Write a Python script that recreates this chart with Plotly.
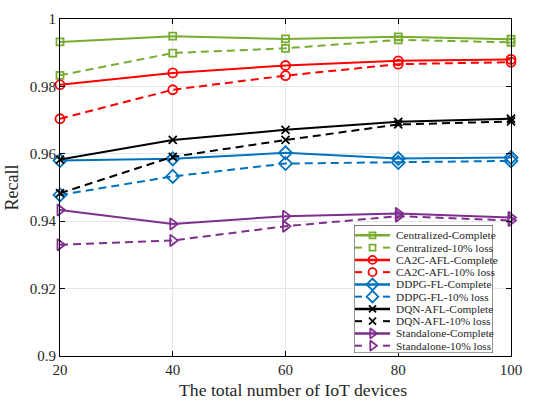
import plotly.graph_objects as go

devices = [20, 40, 60, 80, 100]

central_complete = [0.9932, 0.9949, 0.9941, 0.9947, 0.9940]
central_loss = [0.9833, 0.9899, 0.9913, 0.9938, 0.9931]
ca2c_complete = [0.9805, 0.9840, 0.9862, 0.9876, 0.9880]
ca2c_loss = [0.9704, 0.9790, 0.9832, 0.9866, 0.9872]
ddpg_complete = [0.9580, 0.9585, 0.9603, 0.9586, 0.9589]
ddpg_loss = [0.9478, 0.9533, 0.9571, 0.9574, 0.9579]
dqn_complete = [0.9583, 0.9641, 0.9671, 0.9695, 0.9704]
dqn_loss = [0.9483, 0.9591, 0.9641, 0.9687, 0.9696]
standalone_complete = [0.9433, 0.9392, 0.9415, 0.9423, 0.9411]
standalone_loss = [0.9330, 0.9343, 0.9385, 0.9415, 0.9402]

x_ticks = [20, 40, 60, 80, 100]
y_ticks = [0.9, 0.92, 0.94, 0.96, 0.98, 1.0]
y_tick_text = ["0.9", "0.92", "0.94", "0.96", "0.98", "1"]

series = [
    ("Centralized-Complete", central_complete, "#77AC30", False, "square-open", 7, 6),
    ("Centralized-10% loss", central_loss, "#77AC30", True, "square-open", 7, 6),
    ("CA2C-AFL-Complete", ca2c_complete, "#FF0000", False, "circle-open", 9, 8),
    ("CA2C-AFL-10% loss", ca2c_loss, "#FF0000", True, "circle-open", 9, 8),
    ("DDPG-FL-Complete", ddpg_complete, "#0072BD", False, "diamond-open", 10, 9),
    ("DDPG-FL-10% loss", ddpg_loss, "#0072BD", True, "diamond-open", 10, 9),
    ("DQN-AFL-Complete", dqn_complete, "#000000", False, "x-thin-open", 8, 7),
    ("DQN-AFL-10% loss", dqn_loss, "#000000", True, "x-thin-open", 8, 7),
    ("Standalone-Complete", standalone_complete, "#7E2F8E", False, "triangle-right-open", 10, 9),
    ("Standalone-10% loss", standalone_loss, "#7E2F8E", True, "triangle-right-open", 10, 9),
]

font = "Liberation Serif, Times New Roman, serif"
text_color = "#262626"

# figure / plot-area geometry in pixels
W, H = 543, 405
ML, MR, MT, MB = 60, 32, 11, 49
PW, PH = W - ML - MR, H - MT - MB

# legend box in pixels (left, right, top, bottom)
LB_L, LB_R, LB_T, LB_B = 354, 493, 222, 353
LB_W, LB_H = LB_R - LB_L, LB_B - LB_T
ROW0, ROW_STEP = 10.5, 12.55
SAMPLE_X0, SAMPLE_X1, TEXT_X = 1, 36, 41

# x-axis title placement (pixels)
XT_CX, XT_CY = 293, 391

fig = go.Figure()
for name, vals, color, dashed, symbol, size, _ in series:
    fig.add_trace(go.Scatter(
        x=devices, y=vals, name=name, mode="lines+markers", showlegend=False,
        line=dict(color=color, width=2, dash="8px,5px" if dashed else "solid"),
        marker=dict(symbol=symbol, size=size, color=color,
                    line=dict(color=color, width=1.8)),
        cliponaxis=False,
    ))

# compact legend on its own axes (pixel units inside the box)
mid = (SAMPLE_X0 + SAMPLE_X1) / 2
for i, (name, _, color, dashed, symbol, _, lsize) in enumerate(series):
    yc = ROW0 + ROW_STEP * i
    if dashed:
        lx = [SAMPLE_X0, SAMPLE_X0 + 7, None, SAMPLE_X1 - 7, SAMPLE_X1]
        ly = [yc, yc, None, yc, yc]
    else:
        lx = [SAMPLE_X0, SAMPLE_X1]
        ly = [yc, yc]
    fig.add_trace(go.Scatter(
        x=lx, y=ly, xaxis="x2", yaxis="y2", mode="lines", showlegend=False,
        hoverinfo="skip", line=dict(color=color, width=2.5 if not dashed else 2),
    ))
    fig.add_trace(go.Scatter(
        x=[mid], y=[yc], xaxis="x2", yaxis="y2", mode="markers", showlegend=False,
        hoverinfo="skip",
        marker=dict(symbol=symbol, size=lsize, color=color,
                    line=dict(color=color, width=1.8)),
    ))
    fig.add_annotation(
        x=TEXT_X, y=yc, xref="x2", yref="y2", text=name, showarrow=False,
        xanchor="left", yanchor="middle", borderpad=0,
        font=dict(family=font, size=11.3, color=text_color),
    )

fig.add_shape(type="rect", xref="x2", yref="y2", x0=0, x1=LB_W, y0=0, y1=LB_H,
              fillcolor="white", line=dict(color=text_color, width=1), layer="between")

fig.add_annotation(
    x=(XT_CX - ML) / PW, y=(H - MB - XT_CY) / PH, xref="paper", yref="paper",
    text="The total number of IoT devices", showarrow=False,
    xanchor="center", yanchor="middle",
    font=dict(family=font, size=17.7, color=text_color),
)

axis_common = dict(
    showline=True, linecolor="black", linewidth=1, mirror="allticks",
    ticks="inside", ticklen=5, tickcolor="black",
    showgrid=True, gridcolor="#E6E6E6", gridwidth=1, zeroline=False,
    tickfont=dict(family=font, size=15, color=text_color),
)

fig.update_layout(
    width=W, height=H,
    margin=dict(l=ML, r=MR, t=MT, b=MB),
    paper_bgcolor="white", plot_bgcolor="white",
    font=dict(family=font, color=text_color),
    xaxis=dict(range=[20, 100], tickvals=x_ticks, domain=[0, 1], **axis_common),
    yaxis=dict(range=[0.9, 1.0], tickvals=y_ticks, ticktext=y_tick_text, domain=[0, 1],
               title=dict(text="Recall", font=dict(family=font, size=18), standoff=6),
               **axis_common),
    xaxis2=dict(domain=[(LB_L - ML) / PW, (LB_R - ML) / PW], range=[0, LB_W],
                visible=False, anchor="y2", fixedrange=True),
    yaxis2=dict(domain=[(H - MB - LB_B) / PH, (H - MB - LB_T) / PH], range=[LB_H, 0],
                visible=False, anchor="x2", fixedrange=True),
    showlegend=False,
)

fig.write_html("out.html")
